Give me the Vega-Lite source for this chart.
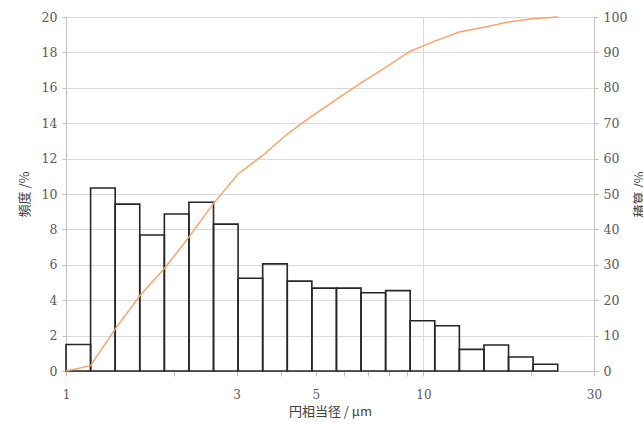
{
  "$schema": "https://vega.github.io/schema/vega-lite/v6.json",
  "width": 528,
  "height": 354,
  "autosize": "none",
  "padding": {"left": 66, "top": 17, "right": 49, "bottom": 53},
  "background": "white",
  "config": {
    "view": {"stroke": null},
    "axis": {
      "labelFont": "DejaVu Serif",
      "labelFontSize": 12.5,
      "labelColor": "#595959",
      "titleFont": "Noto Sans CJK JP",
      "titleFontSize": 13,
      "titleFontWeight": "normal",
      "titleColor": "#404040",
      "domainColor": "#bfbfbf",
      "tickColor": "#bfbfbf",
      "gridColor": "#d9d9d9"
    }
  },
  "datasets": {
    "bins": [
      {"x0": 1.0, "x1": 1.1716, "freq": 1.5},
      {"x0": 1.1716, "x1": 1.3727, "freq": 10.34},
      {"x0": 1.3727, "x1": 1.6082, "freq": 9.43},
      {"x0": 1.6082, "x1": 1.8842, "freq": 7.68},
      {"x0": 1.8842, "x1": 2.2075, "freq": 8.87},
      {"x0": 2.2075, "x1": 2.5863, "freq": 9.53},
      {"x0": 2.5863, "x1": 3.0301, "freq": 8.3},
      {"x0": 3.0301, "x1": 3.5501, "freq": 5.24},
      {"x0": 3.5501, "x1": 4.1592, "freq": 6.05},
      {"x0": 4.1592, "x1": 4.873, "freq": 5.08},
      {"x0": 4.873, "x1": 5.7092, "freq": 4.68},
      {"x0": 5.7092, "x1": 6.6889, "freq": 4.68},
      {"x0": 6.6889, "x1": 7.8367, "freq": 4.42},
      {"x0": 7.8367, "x1": 9.1814, "freq": 4.54},
      {"x0": 9.1814, "x1": 10.757, "freq": 2.84},
      {"x0": 10.757, "x1": 12.603, "freq": 2.56},
      {"x0": 12.603, "x1": 14.765, "freq": 1.22},
      {"x0": 14.765, "x1": 17.299, "freq": 1.47},
      {"x0": 17.299, "x1": 20.268, "freq": 0.79},
      {"x0": 20.268, "x1": 23.746, "freq": 0.38}
    ],
    "cum": [
      {"x": 1.0, "cum": 0},
      {"x": 1.1716, "cum": 1.5},
      {"x": 1.3727, "cum": 11.84},
      {"x": 1.6082, "cum": 21.27},
      {"x": 1.8842, "cum": 28.95},
      {"x": 2.2075, "cum": 37.82},
      {"x": 2.5863, "cum": 47.35},
      {"x": 3.0301, "cum": 55.65},
      {"x": 3.5501, "cum": 60.89},
      {"x": 4.1592, "cum": 66.94},
      {"x": 4.873, "cum": 72.02},
      {"x": 5.7092, "cum": 76.7},
      {"x": 6.6889, "cum": 81.38},
      {"x": 7.8367, "cum": 85.8},
      {"x": 9.1814, "cum": 90.34},
      {"x": 10.757, "cum": 93.18},
      {"x": 12.603, "cum": 95.74},
      {"x": 14.765, "cum": 97.1},
      {"x": 17.299, "cum": 98.6},
      {"x": 20.268, "cum": 99.5},
      {"x": 23.746, "cum": 100}
    ]
  },
  "layer": [
    {
      "data": {"name": "bins"},
      "mark": {"type": "rect", "fill": "transparent", "stroke": "#262626", "strokeWidth": 1.6},
      "encoding": {
        "x": {
          "field": "x0",
          "type": "quantitative",
          "scale": {"type": "log", "domain": [1, 30], "nice": false},
          "axis": {
            "title": "円相当径 / μm",
            "values": [1, 2, 3, 4, 5, 6, 7, 8, 9, 10, 20, 30],
            "format": "d",
            "labelExpr": "indexof([1,3,5,10,30], datum.value) >= 0 ? datum.label : ''",
            "labelFontSize": 12,
            "tickSize": 5,
            "labelPadding": 13,
            "titlePadding": 5,
            "grid": true,
            "gridOpacity": {"condition": {"test": "datum.value === 10", "value": 1}, "value": 0},
            "labelFlush": false,
            "labelOverlap": false
          }
        },
        "x2": {"field": "x1"},
        "y": {
          "field": "freq",
          "type": "quantitative",
          "scale": {"domain": [0, 20], "nice": false},
          "axis": {
            "title": "頻度 /%",
            "values": [0, 2, 4, 6, 8, 10, 12, 14, 16, 18, 20],
            "tickSize": 4,
            "labelPadding": 5,
            "titlePadding": 10,
            "grid": true
          }
        },
        "y2": {"datum": 0}
      }
    },
    {
      "data": {"name": "cum"},
      "mark": {"type": "line", "color": "#F4A46C", "strokeWidth": 1.5},
      "encoding": {
        "x": {"field": "x", "type": "quantitative"},
        "y": {
          "field": "cum",
          "type": "quantitative",
          "scale": {"domain": [0, 100], "nice": false},
          "axis": {
            "orient": "right",
            "title": "積算 /%",
            "values": [0, 10, 20, 30, 40, 50, 60, 70, 80, 90, 100],
            "tickSize": 4,
            "labelPadding": 5,
            "titlePadding": 7,
            "titleAngle": -90,
            "titleBaseline": "top",
            "grid": false
          }
        }
      }
    }
  ],
  "resolve": {"scale": {"y": "independent"}}
}
